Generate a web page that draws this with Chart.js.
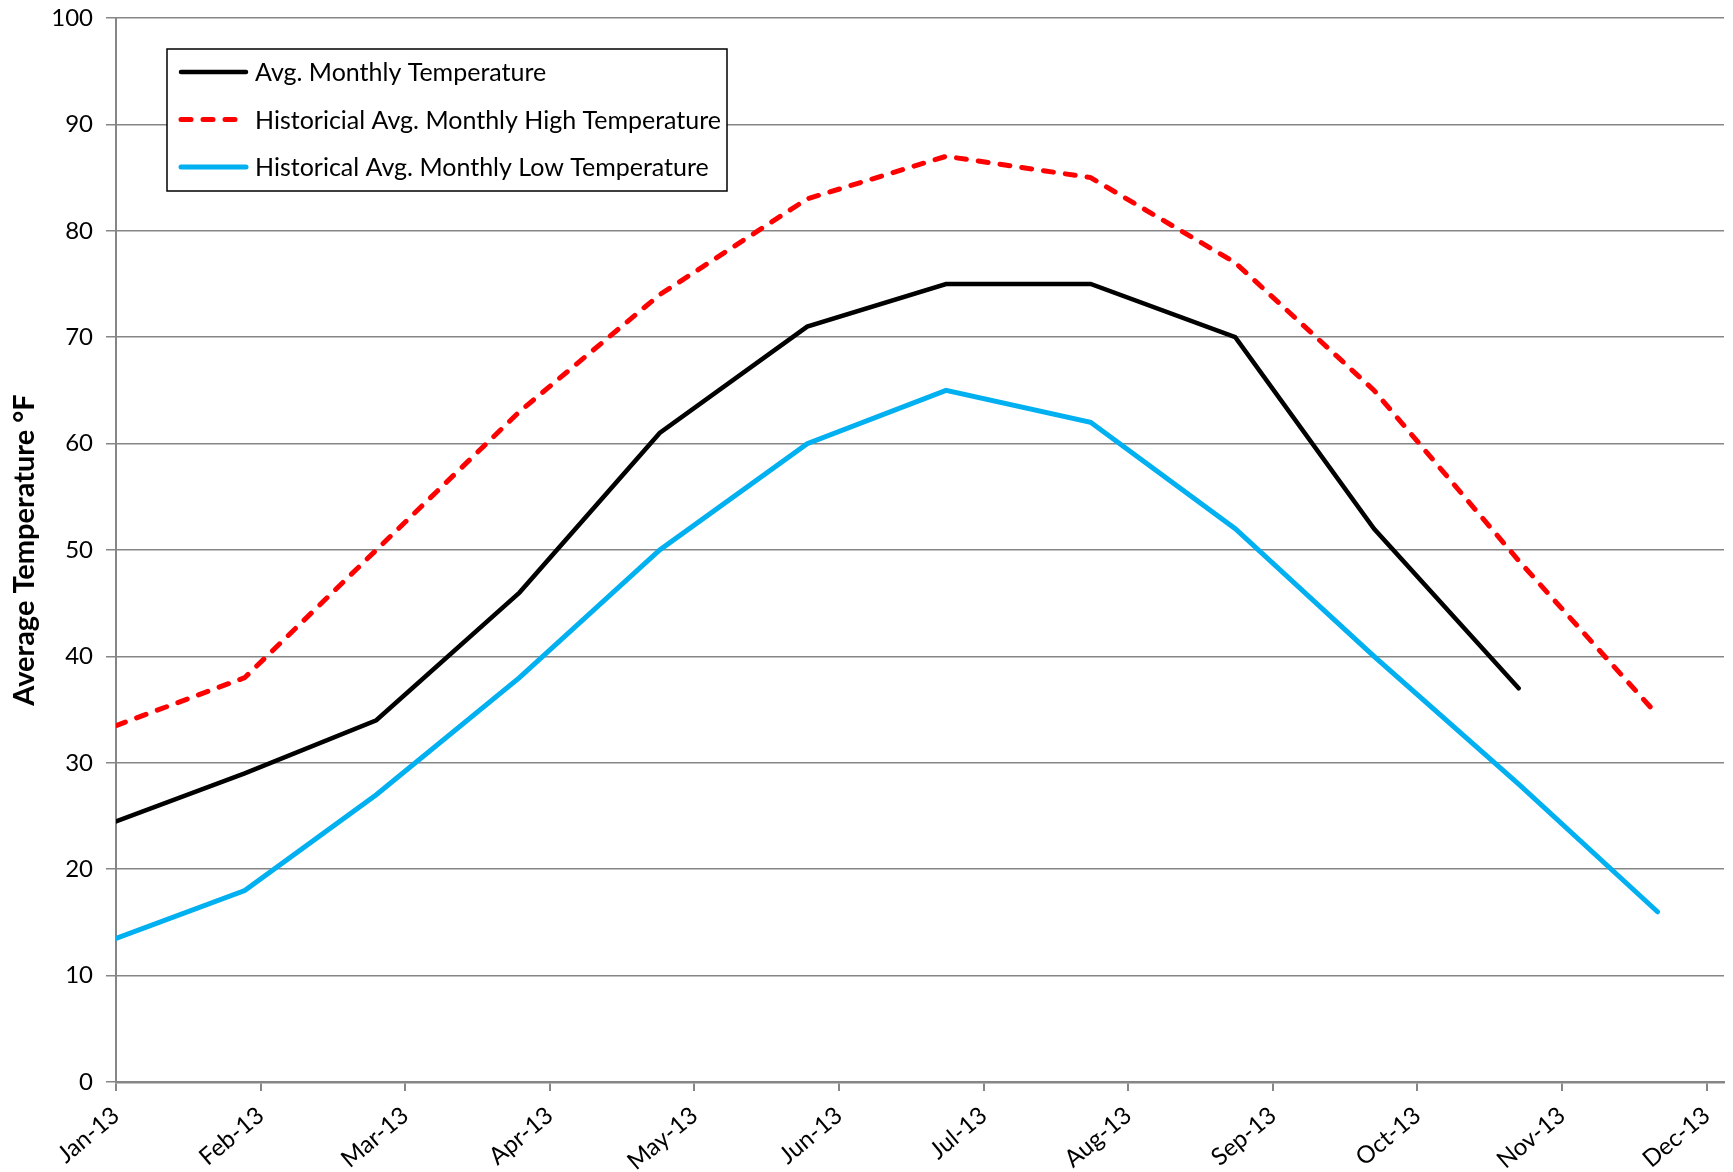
<!DOCTYPE html>
<html>
<head>
<meta charset="utf-8">
<script src="https://cdn.jsdelivr.net/npm/chart.js@4.4.0/dist/chart.umd.min.js"></script>
<style>
  html, body { margin: 0; padding: 0; background: #fff; }
  #wrap { width: 1733px; height: 1172px; }
</style>
</head>
<body>
<div id="wrap"><canvas id="myChart" width="1733" height="1172"></canvas></div>
<script>
// month tick labels (x axis runs 0 = Jan-13 ... 11 = Dec-13)
var monthLabels = ['Jan-13', 'Feb-13', 'Mar-13', 'Apr-13', 'May-13', 'Jun-13',
                   'Jul-13', 'Aug-13', 'Sep-13', 'Oct-13', 'Nov-13', 'Dec-13'];
// where each reading sits on the date axis (in months from Jan-13)
var readingPos = [0, 0.89, 1.80, 2.79, 3.76, 4.78, 5.74, 6.74, 7.74, 8.70, 9.70, 10.66];

var avgTemp  = [24.5, 29, 34, 46, 61, 71, 75, 75, 70, 52, 37];
var highTemp = [33.5, 38, 50, 63, 74, 83, 87, 85, 77, 65, 49, 34.5];
var lowTemp  = [13.5, 18, 27, 38, 50, 60, 65, 62, 52, 40, 28, 16];

var seriesNames = ['Avg. Monthly Temperature',
                   'Historicial Avg. Monthly High Temperature',
                   'Historical Avg. Monthly Low Temperature'];

var gridGray = '#868686';
var fontFam = 'Lato, "Open Sans", sans-serif';

function toPoints(vals) {
  var pts = [];
  for (var i = 0; i < vals.length; i++) {
    pts.push({ x: readingPos[i], y: vals[i] });
  }
  return pts;
}

// legend box sits inside the plot, top left, white fill over the grid
var boxLegend = {
  id: 'boxLegend',
  afterDatasetsDraw: function (chart) {
    var ctx = chart.ctx;
    var ds = chart.data.datasets;
    var bx = 167, by = 49, bw = 560, bh = 142;
    ctx.save();
    ctx.fillStyle = '#fff';
    ctx.fillRect(bx, by, bw, bh);
    ctx.strokeStyle = '#000';
    ctx.lineWidth = 1.5;
    ctx.strokeRect(bx, by, bw, bh);
    ctx.font = '25px ' + fontFam;
    ctx.textBaseline = 'middle';
    for (var i = 0; i < ds.length; i++) {
      var yy = by + 23 + i * 47.5;
      ctx.beginPath();
      ctx.strokeStyle = ds[i].borderColor;
      ctx.lineWidth = ds[i].borderWidth;
      ctx.lineCap = 'round';
      ctx.setLineDash(ds[i].borderDash || []);
      ctx.moveTo(181, yy);
      ctx.lineTo(246, yy);
      ctx.stroke();
      ctx.setLineDash([]);
      ctx.fillStyle = '#000';
      ctx.fillText(ds[i].label, 255, yy + 1);
    }
    ctx.restore();
  }
};

var myChart = new Chart(document.getElementById('myChart').getContext('2d'), {
  type: 'line',
  data: {
    datasets: [{
      label: seriesNames[0],
      data: toPoints(avgTemp),
      borderColor: '#000000',
      borderWidth: 4.5,
      borderCapStyle: 'round',
      pointRadius: 0,
      tension: 0
    }, {
      label: seriesNames[1],
      data: toPoints(highTemp),
      borderColor: '#FF0000',
      borderWidth: 5,
      borderDash: [10, 12],
      borderCapStyle: 'round',
      pointRadius: 0,
      tension: 0
    }, {
      label: seriesNames[2],
      data: toPoints(lowTemp),
      borderColor: '#00B0F0',
      borderWidth: 5,
      borderCapStyle: 'round',
      pointRadius: 0,
      tension: 0
    }]
  },
  options: {
    responsive: false,
    animation: false,
    layout: { padding: { top: 18, right: 9, left: 0, bottom: 0 } },
    plugins: {
      legend: { display: false },
      tooltip: { enabled: false }
    },
    scales: {
      x: {
        type: 'linear',
        min: 0,
        max: 11.12,
        // fixed height, and no extra side padding for the rotated labels
        afterFit: function (s) { s.height = 90; s.paddingLeft = 0; s.paddingRight = 0; },
        border: { display: true, color: gridGray, width: 2.5 },
        grid: { drawOnChartArea: false, drawTicks: true, tickLength: 9, color: gridGray, lineWidth: 2 },
        ticks: {
          stepSize: 1,
          includeBounds: false,
          autoSkip: false,
          minRotation: 40,
          maxRotation: 40,
          padding: 10,
          color: '#000',
          font: { family: fontFam, size: 24 },
          callback: function (v) { return monthLabels[v]; }
        }
      },
      y: {
        min: 0,
        max: 100,
        afterFit: function (s) { s.width = 116; s.paddingTop = 0; s.paddingBottom = 0; },
        border: { display: true, color: gridGray, width: 2 },
        grid: { color: gridGray, lineWidth: 1.5, tickLength: 10 },
        ticks: {
          stepSize: 10,
          padding: 13,
          color: '#000',
          font: { family: fontFam, size: 24 }
        },
        title: {
          display: true,
          text: 'Average Temperature °F',
          color: '#000',
          padding: { top: 7, bottom: 0 },
          font: { family: fontFam, size: 29, weight: 'bold' }
        }
      }
    }
  },
  plugins: [boxLegend]
});
</script>
</body>
</html>
